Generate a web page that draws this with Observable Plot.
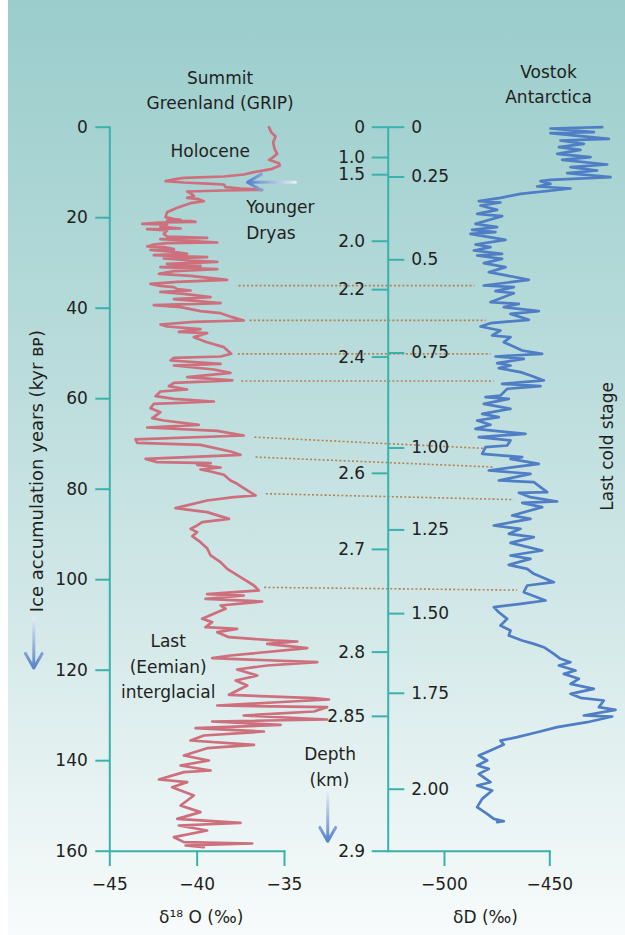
<!DOCTYPE html>
<html>
<head>
<meta charset="utf-8">
<script src="https://cdn.jsdelivr.net/npm/d3@7"></script>
<script src="https://cdn.jsdelivr.net/npm/@observablehq/plot@0.6"></script>
<style>
html, body { margin: 0; padding: 0; background: #ffffff; }
#chart { position: relative; width: 625px; height: 935px; overflow: hidden; background: #ffffff; }
#bg { position: absolute; left: 8px; top: 0; width: 617px; height: 935px;
  background: linear-gradient(to bottom, #9acdcc 0%, #b8dbdb 37%, #d3e8e8 66%, #f8fbfb 100%); }
#chart svg { position: absolute; left: 0; top: 0; }
</style>
</head>
<body>
<div id="chart"><div id="bg"></div></div>
<script>
// ---------------- DATA ----------------
// GRIP (Summit, Greenland): [age kyr BP, δ18O ‰]
const grip = [
[0.0,-35.89],[1.10,-35.76],[2.06,-35.51],[3.31,-35.65],[4.78,-35.57],[5.89,-35.42],[6.77,-35.70],[7.21,-35.89],[7.95,-35.32],[8.46,-35.27],
[9.20,-35.70],[9.94,-36.75],[10.45,-37.33],[10.90,-38.47],[11.19,-40.76],[11.49,-41.24],[11.93,-41.81],[12.22,-40.76],[12.52,-39.14],[12.66,-38.47],
[13.25,-38.37],[13.55,-37.52],[13.84,-36.28],[13.99,-38.47],[14.21,-40.57],[14.58,-40.38],[15.17,-40.19],[15.61,-40.57],[15.91,-39.90],[16.35,-39.62],
[16.79,-40.38],[17.82,-41.14],[18.78,-41.72],[19.88,-41.81],[20.32,-41.33],[20.47,-40.95],[20.62,-41.72],[20.77,-40.38],[20.91,-40.09],[21.06,-42.10],
[21.36,-43.14],[21.50,-41.72],[21.95,-42.10],[22.39,-40.95],[22.53,-42.86],[22.83,-41.72],[23.57,-41.91],[24.16,-41.72],[24.45,-39.43],[24.74,-42.10],
[25.48,-38.85],[25.63,-41.72],[25.92,-42.48],[26.36,-42.86],[26.51,-41.91],[26.95,-41.33],[27.10,-42.67],[27.54,-41.33],[27.99,-40.57],[28.28,-42.48],
[28.72,-39.43],[29.02,-41.91],[29.46,-40.38],[29.75,-38.85],[30.20,-41.72],[30.64,-39.81],[30.93,-42.10],[31.37,-38.85],[31.82,-41.33],[32.41,-42.19],
[32.85,-40.38],[33.73,-38.28],[34.17,-41.14],[34.62,-42.67],[35.06,-42.10],[35.35,-41.33],[35.79,-41.14],[36.09,-40.38],[36.38,-42.10],[36.83,-40.76],
[37.56,-39.23],[38.00,-41.33],[38.89,-38.66],[39.33,-42.48],[39.77,-40.95],[40.66,-39.81],[41.10,-38.66],[41.98,-37.99],[42.72,-37.33],[43.01,-40.19],
[43.60,-42.10],[44.05,-41.72],[44.63,-39.81],[45.22,-41.05],[45.52,-39.43],[46.40,-40.19],[47.51,-39.43],[48.61,-38.47],[50.08,-38.05],[50.67,-38.66],
[50.97,-41.33],[51.56,-41.52],[52.30,-38.66],
[52.66,-41.33],[53.54,-39.04],[54.28,-38.09],[55.24,-40.57],[55.97,-37.99],[56.49,-41.33],[57.23,-41.62],[57.96,-40.57],[58.41,-42.10],[59.44,-42.38],
[60.03,-41.33],[60.62,-39.04],[61.13,-42.48],[62.09,-42.67],[62.97,-42.10],[64.30,-42.57],[64.81,-41.91],[65.77,-39.90],[66.36,-42.86],[67.10,-38.85],
[68.13,-37.33],[69.01,-43.53],[69.75,-43.43],[70.19,-39.81],[71.67,-38.09],[72.40,-37.52],[73.29,-42.95],[74.02,-42.29],[74.24,-39.23],[74.61,-40.00],
[75.20,-38.66],[75.64,-39.81],[76.09,-39.23],[76.82,-38.47],[78.07,-38.09],[78.81,-37.71],[80.28,-37.13],[81.39,-36.66],[81.76,-37.90],[82.49,-39.43],
[84.19,-41.24],[85.07,-39.43],[86.55,-38.18],[87.28,-39.71],[88.02,-40.00],[88.76,-40.38],[89.49,-40.00],[90.38,-40.28],[91.70,-39.81],[93.03,-39.43],
[94.65,-39.23],[96.12,-38.66],[97.60,-38.28],[99.44,-37.52],[101.28,-36.75],[102.38,-36.47],[103.19,-39.43],[103.49,-37.33],[104.23,-39.52],[104.82,-36.28],
[105.70,-38.66],
[106.44,-38.37],[107.17,-38.85],[108.65,-39.71],[109.38,-39.14],[110.49,-39.52],[110.86,-37.71],[111.59,-38.85],[112.70,-38.18],[113.43,-35.61],[113.66,-34.27],
[114.17,-35.99],[115.13,-33.70],[116.75,-38.09],[117.34,-39.14],[118.22,-33.13],[118.96,-35.99],[119.84,-37.71],[121.17,-36.56],[122.27,-37.80],[123.38,-37.13],
[125.44,-38.18],[126.18,-33.32],[126.47,-32.46],[127.80,-38.85],[128.17,-32.56],[129.13,-33.32],[130.01,-37.33],[130.89,-32.56],[131.34,-39.14],[132.07,-35.23],
[132.81,-40.09],[133.55,-36.18],[134.43,-39.62],[135.53,-40.38],[136.49,-36.75],[137.23,-39.43],[138.85,-40.76],[139.95,-39.33],[141.06,-40.95],[142.16,-39.23],
[142.53,-40.76],[144.15,-42.19],[144.74,-40.57],[145.85,-41.43],[147.69,-40.19],[149.90,-40.95],[151.37,-39.81],[152.85,-41.14],[153.73,-37.52],[154.32,-41.05],
[155.42,-39.43],[156.90,-41.33],[158.00,-40.76],[158.30,-36.85],[158.74,-40.66],[159.11,-39.62]
];

// Vostok (Antarctica): [age kyr BP (on the shared time axis), δD ‰]
const vostok = [
[0.0,-425.13],[0.29,-449.67],[1.10,-429.09],[1.32,-449.67],[2.57,-421.97],[2.94,-444.92],[3.68,-433.84],[4.41,-445.71],[5.00,-435.42],[5.89,-446.50],
[6.62,-430.67],[7.21,-444.13],[8.24,-422.76],[8.83,-440.17],[9.57,-427.51],[10.16,-441.75],[11.04,-421.18],[11.63,-449.67],[11.93,-454.41],[12.52,-449.67],
[13.11,-455.99],[13.55,-440.17],[14.73,-463.91],[15.61,-473.41],[16.35,-483.69],[16.64,-473.41],[17.30,-482.90],[18.26,-474.99],[19.15,-484.49],[19.66,-472.62],
[20.62,-479.74],[21.36,-485.28],[22.09,-474.99],[22.68,-486.86],[23.20,-475.78],[23.57,-487.65],[24.89,-471.03],[25.92,-485.28],[26.51,-478.16],[27.25,-486.07],
[27.99,-472.62],[28.35,-484.49],[29.09,-472.62],[30.05,-481.32],[30.93,-471.03],[32.04,-478.95],[33.00,-467.87],[33.73,-459.95],[34.25,-468.66],[34.98,-481.32],
[35.35,-467.08],[36.24,-475.78],[36.68,-467.08],[38.67,-478.16],[39.04,-464.70],[39.77,-471.82],[40.66,-455.20],[41.25,-468.66],[42.57,-459.95],[43.31,-478.16],
[44.05,-482.90],[44.93,-473.41],[46.03,-477.36],[46.40,-468.66],[47.51,-471.82],[49.35,-463.12],[50.08,-453.62],[50.67,-475.78],[51.19,-462.33],[52.15,-474.99],
[52.66,-468.66],[53.25,-474.20],[54.13,-463.91],[54.87,-459.16],[55.97,-452.83],[56.71,-472.62],[57.23,-454.41],[57.82,-470.24],[59.29,-473.41],[59.66,-480.53],
[60.03,-469.45],[61.13,-481.32],[62.24,-468.66],[63.34,-482.11],[64.08,-474.20],[64.81,-484.49],[65.77,-478.16],[66.66,-485.28],[67.76,-461.54],[68.50,-483.69],
[69.23,-468.66],[70.34,-470.24],[70.71,-480.53],[72.18,-482.11],[72.92,-463.12],[73.29,-468.66],[74.39,-455.20],[75.86,-478.95],[76.60,-459.16],[78.07,-474.20],
[78.44,-457.58],[80.65,-451.25],[80.80,-464.70],[81.76,-459.16],[82.71,-446.50],[83.01,-463.12],[83.97,-453.62],[85.81,-467.87],[86.55,-459.16],[88.02,-476.57],
[88.76,-463.91],[89.86,-469.45],[90.60,-457.58],[91.85,-468.66],[93.54,-453.62],[94.65,-468.66],[95.39,-459.16],[96.71,-469.45],[97.60,-460.74],[98.70,-457.58],
[100.54,-448.08],[101.28,-460.74],[102.75,-462.33],[104.59,-452.04],[105.33,-463.91],[106.07,-476.57],
[107.18,-474.20],[108.65,-470.24],[110.12,-473.41],[111.23,-468.66],[112.33,-469.45],[113.44,-463.12],[114.18,-457.58],[114.91,-452.83],[116.39,-448.08],[117.49,-444.92],
[118.23,-440.17],[118.96,-445.71],[120.07,-437.79],[120.81,-443.33],[121.91,-436.21],[123.02,-440.17],[124.12,-429.09],[125.23,-440.17],[126.11,-435.42],[126.70,-424.34],
[128.17,-426.71],[128.76,-418.80],[130.01,-433.84],[130.24,-420.38],[131.49,-432.25],[132.59,-446.50],[133.70,-455.99],[134.80,-465.49],[135.54,-473.41],[136.42,-471.82],
[137.75,-478.16],[138.85,-483.69],[139.96,-479.74],[141.06,-484.49],[141.80,-478.95],[142.91,-483.69],[144.75,-478.16],[145.48,-484.49],[146.59,-477.36],[148.43,-482.11],
[150.27,-484.49],[151.75,-479.74],[152.85,-476.57],[153.37,-471.82],[153.59,-474.99]
];

// Axis ticks
const ageTicks = [0, 20, 40, 60, 80, 100, 120, 140, 160];
const gripXTicks = [-45, -40, -35];
const vostokXTicks = [-500, -450];

// GRIP depth (km) labels and the ages where they sit
const gripDepthLabels = ["0", "1.0", "1.5", "2.0", "2.2", "2.4", "2.6", "2.7", "2.8", "2.85", "2.9"];
const gripDepthAges   = [0, 6.7, 10.5, 25.2, 35.9, 50.8, 76.5, 93.3, 116.0, 130.2, 160];
// Vostok depth (km) labels and the ages where they sit
const vostokDepthLabels = ["0", "0.25", "0.5", "0.75", "1.00", "1.25", "1.50", "1.75", "2.00"];
const vostokDepthAges   = [0, 11.0, 29.3, 49.9, 70.9, 89.0, 107.5, 125.1, 146.3];

// Correlation links: GRIP end [age, δ18O], Vostok end [age, δD]
const linkGrip   = [[35.0,-37.63],[42.7,-37.0],[50.1,-37.67],[56.1,-37.48],[68.5,-36.72],[72.9,-36.66],[81.0,-36.07],[101.7,-36.16]];
const linkVostok = [[35.0,-485.8],[42.7,-480.4],[50.1,-478.2],[56.1,-476.6],[71.0,-480.2],[75.1,-476.6],[82.3,-467.1],[102.3,-465.5]];

// ---------------- STYLE ----------------
const teal = "#3ab2ac", ink = "#231f20";
const gripColor = "#cd6f7c", vostokColor = "#4f7ec4", linkColor = "#b5834f";
const W = 625, H = 935;
const baseStyle = {fontFamily: "DejaVu Sans", fontSize: "17px", background: "transparent", overflow: "visible", color: ink};
const yCfg = {domain: [0, 160], reverse: true};
const vMargins = {marginTop: 126.7, marginBottom: 84.3};
const fmt = d => (d < 0 ? "\u2212" + Math.abs(d) : String(d));
const txt = {fill: ink, fontSize: 17};

function addGrad(svg, id, x2, y2, c1, c2) {
  const defs = d3.select(svg).insert("defs", ":first-child");
  const g = defs.append("linearGradient").attr("id", id)
    .attr("x1", 0).attr("y1", 0).attr("x2", x2).attr("y2", y2);
  g.append("stop").attr("offset", 0).attr("stop-color", c1);
  g.append("stop").attr("offset", 1).attr("stop-color", c2);
}

const gripRows = grip.map(([age, v]) => ({age, v}));
const vostokRows = vostok.map(([age, v]) => ({age, v}));

// ---------------- GRIP PANEL ----------------
const gPlot = Plot.plot({
  width: W, height: H, style: baseStyle,
  marginLeft: 109.3, marginRight: 341, ...vMargins,
  x: {domain: [-45, -35]},
  y: yCfg,
  marks: [
    Plot.frame({anchor: "left", stroke: teal, strokeWidth: 2}),
    Plot.frame({anchor: "bottom", stroke: teal, strokeWidth: 2}),
    Plot.axisY(ageTicks, {anchor: "left", tickSize: 14, tickPadding: 8, color: ink, stroke: teal, strokeWidth: 2, fontSize: 17, label: null}),
    Plot.axisX(gripXTicks, {anchor: "bottom", tickSize: 15.3, tickPadding: 11, color: ink, stroke: teal, strokeWidth: 2, fontSize: 17, label: null, tickFormat: fmt}),
    Plot.line(gripRows, {x: "v", y: "age", stroke: gripColor, strokeWidth: 2.7}),
    Plot.text(["Summit"], {x: -38.69, y: -10.7, ...txt}),
    Plot.text(["Greenland (GRIP)"], {x: -38.69, y: -5.17, ...txt}),
    Plot.text(["Holocene"], {x: -39.25, y: 5.48, ...txt}),
    Plot.text(["Younger"], {x: -37.19, y: 17.86, textAnchor: "start", ...txt}),
    Plot.text(["Dryas"], {x: -37.19, y: 23.51, textAnchor: "start", ...txt}),
    Plot.arrow([0], {x1: -34.37, x2: -37.12, y1: 12.15, y2: 12.15, stroke: "url(#ydGrad)", strokeWidth: 3, headLength: 9}),
    Plot.text(["Last"], {x: -41.66, y: 113.68, ...txt}),
    Plot.text(["(Eemian)"], {x: -41.66, y: 119.42, ...txt}),
    Plot.text(["interglacial"], {x: -41.66, y: 124.84, ...txt}),
    Plot.text(["Ice accumulation years (kyr \u0299\u1D18)"], {x: -49.17, y: 76.0, rotate: -90, fill: ink, fontSize: 18}),
    Plot.arrow([0], {x1: -49.35, x2: -49.35, y1: 108.4, y2: 119.5, stroke: "url(#yGrad)", strokeWidth: 3, headLength: 9}),
    Plot.text(["\u03B4\u00B9\u2078 O (\u2030)"], {x: -39.77, y: 174.56, ...txt})
  ]
});
addGrad(gPlot, "ydGrad", 1, 0, "#5a82c8", "#e8eef8");
addGrad(gPlot, "yGrad", 0, 1, "#e3eaf6", "#5a82c8");

// ---------------- VOSTOK PANEL ----------------
const vxCfg = {domain: [-526.7, -450]};
const vPlot = Plot.plot({
  width: W, height: H, style: baseStyle,
  marginLeft: 387.7, marginRight: 75.7, ...vMargins,
  x: vxCfg,
  y: yCfg,
  marks: [
    Plot.frame({anchor: "left", stroke: teal, strokeWidth: 2}),
    Plot.frame({anchor: "bottom", stroke: teal, strokeWidth: 2}),
    Plot.axisY(gripDepthAges, {anchor: "left", tickSize: 16, tickPadding: 7, color: ink, stroke: teal, strokeWidth: 2, fontSize: 17, label: null,
      tickFormat: d => gripDepthLabels[gripDepthAges.indexOf(d)]}),
    Plot.axisX(vostokXTicks, {anchor: "bottom", tickSize: 15.3, tickPadding: 11, color: ink, stroke: teal, strokeWidth: 2, fontSize: 17, label: null, tickFormat: fmt}),
    Plot.line(vostokRows, {x: "v", y: "age", stroke: vostokColor, strokeWidth: 2.7}),
    Plot.text(["Vostok"], {x: -450.6, y: -12.09, ...txt}),
    Plot.text(["Antarctica"], {x: -450.6, y: -6.61, ...txt}),
    Plot.text(["Last cold stage"], {x: -422.7, y: 70.52, rotate: -90, ...txt}),
    Plot.text(["Depth"], {x: -554.3, y: 138.65, ...txt}),
    Plot.text(["(km)"], {x: -554.6, y: 144.44, ...txt}),
    Plot.arrow([0], {x1: -555.4, x2: -555.4, y1: 147.25, y2: 157.79, stroke: "url(#dGrad)", strokeWidth: 3, headLength: 9}),
    Plot.text(["\u03B4D (\u2030)"], {x: -480.52, y: 174.67, ...txt})
  ]
});
addGrad(vPlot, "dGrad", 0, 1, "#e3eaf6", "#5a82c8");

// ---------------- VOSTOK DEPTH AXIS (right side of centre line) ----------------
const dPlot = Plot.plot({
  width: W, height: H, style: baseStyle,
  marginLeft: 0, marginRight: 237.3, ...vMargins,
  y: yCfg,
  marks: [
    Plot.axisY(vostokDepthAges, {anchor: "right", tickSize: 15.6, tickPadding: 7.4, color: ink, stroke: teal, strokeWidth: 2, fontSize: 17, label: null,
      tickFormat: d => vostokDepthLabels[vostokDepthAges.indexOf(d)]})
  ]
});

// ---------------- CORRELATION LINKS ----------------
const gx = gPlot.scale("x"), vx = vPlot.scale("x");
const links = linkGrip.map((g, i) => ({ga: g[0], gv: g[1], va: linkVostok[i][0], vv: linkVostok[i][1]}));
const lPlot = Plot.plot({
  width: W, height: H, style: baseStyle,
  marginLeft: 387.7, marginRight: 75.7, ...vMargins,
  x: {...vxCfg, axis: null},
  y: {...yCfg, axis: null},
  marks: [
    Plot.link(links, {x1: d => vx.invert(gx.apply(d.gv)), y1: "ga", x2: "vv", y2: "va",
      stroke: linkColor, strokeWidth: 1.6, strokeDasharray: "2,2.2"})
  ]
});

const chart = document.getElementById("chart");
chart.appendChild(lPlot);
chart.appendChild(gPlot);
chart.appendChild(vPlot);
chart.appendChild(dPlot);
</script>
</body>
</html>
